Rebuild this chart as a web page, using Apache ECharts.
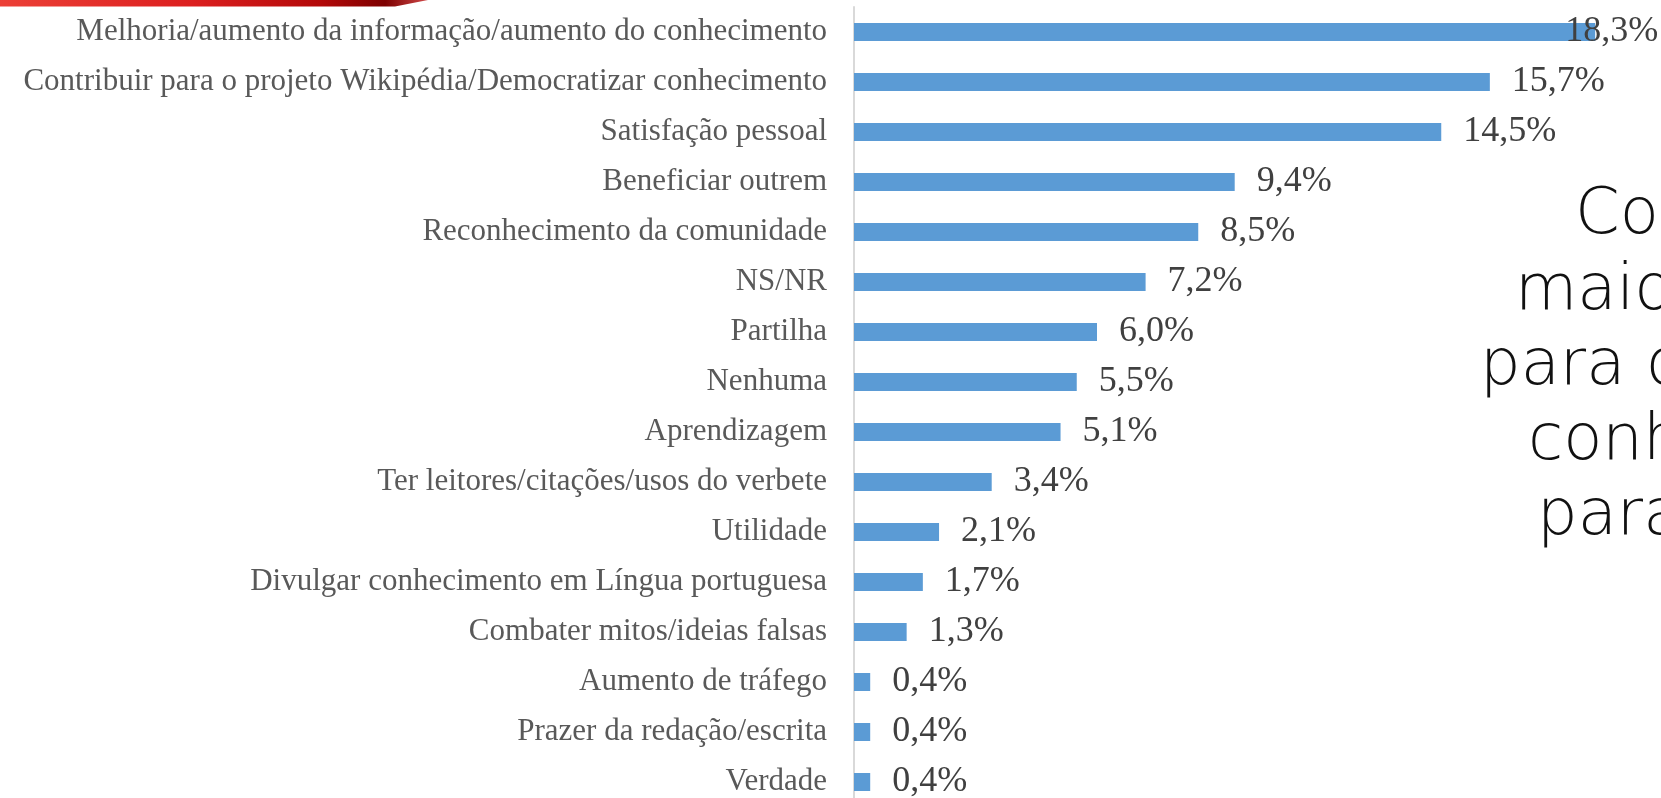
<!DOCTYPE html>
<html>
<head>
<meta charset="utf-8">
<script src="https://cdn.jsdelivr.net/npm/echarts@6/dist/echarts.min.js"></script>
<style>
  html, body { margin: 0; padding: 0; background: #ffffff; }
  #chart { width: 1661px; height: 798px; }
</style>
</head>
<body>
<div id="chart"></div>
<script>
const categories = [
  'Melhoria/aumento da informação/aumento do conhecimento',
  'Contribuir para o projeto Wikipédia/Democratizar conhecimento',
  'Satisfação pessoal',
  'Beneficiar outrem',
  'Reconhecimento da comunidade',
  'NS/NR',
  'Partilha',
  'Nenhuma',
  'Aprendizagem',
  'Ter leitores/citações/usos do verbete',
  'Utilidade',
  'Divulgar conhecimento em Língua portuguesa',
  'Combater mitos/ideias falsas',
  'Aumento de tráfego',
  'Prazer da redação/escrita',
  'Verdade'
];
const values = [18.3, 15.7, 14.5, 9.4, 8.5, 7.2, 6.0, 5.5, 5.1, 3.4, 2.1, 1.7, 1.3, 0.4, 0.4, 0.4];

// visible (cut-off) fragments of the slide text on the right
const sideText = ['Co', 'maio', 'para o', 'conh', 'para'];

const chart = echarts.init(document.getElementById('chart'), null, { renderer: 'canvas' });

const sideLeft = [1575, 1515, 1480, 1528, 1537];
const sideBase = [238, 314, 389, 464, 539];

const graphics = [
  {
    type: 'polygon',
    shape: { points: [[0, 0], [428, 0], [395, 6.5], [0, 6.5]] },
    style: {
      fill: new echarts.graphic.LinearGradient(0, 0, 1, 0, [
        { offset: 0, color: '#ec4037' },
        { offset: 0.45, color: '#dc1f1f' },
        { offset: 0.75, color: '#b30909' },
        { offset: 0.9, color: '#7d0000' },
        { offset: 1, color: '#d04a4a' }
      ])
    },
    silent: true
  }
];
sideText.forEach((t, i) => {
  graphics.push({
    type: 'text',
    silent: true,
    style: {
      text: t,
      x: sideLeft[i],
      y: sideBase[i] - 22,
      fill: '#111111',
      font: '200 64px "DejaVu Sans", "Lato", sans-serif',
      align: 'left',
      verticalAlign: 'middle'
    }
  });
});

const fmt = v => v.toFixed(1).replace('.', ',') + '%';

const seriesData = values.map((v, i) => {
  if (i === 0) {
    return { value: v, label: { offset: [-52, 0] } };
  }
  return v;
});

chart.setOption({
  animation: false,
  backgroundColor: '#ffffff',
  grid: {
    left: 854, top: 7, width: 810, height: 800,
    containLabel: false,
    outerBoundsMode: 'none'
  },
  xAxis: {
    type: 'value',
    min: 0,
    max: 20,
    show: false
  },
  yAxis: {
    type: 'category',
    data: categories,
    inverse: true,
    axisLine: { show: true, lineStyle: { color: '#d9d9d9', width: 2 } },
    axisTick: { show: false },
    splitLine: { show: false },
    axisLabel: {
      margin: 27,
      color: '#595959',
      fontFamily: '"Liberation Serif", "Times New Roman", serif',
      fontSize: 31
    }
  },
  series: [{
    type: 'bar',
    data: seriesData,
    barWidth: 18,
    itemStyle: { color: '#5b9bd5' },
    label: {
      show: true,
      position: 'right',
      distance: 22,
      color: '#404040',
      fontFamily: '"Liberation Serif", "Times New Roman", serif',
      fontSize: 36,
      formatter: p => fmt(p.value)
    }
  }],
  graphic: graphics
});
</script>
</body>
</html>
